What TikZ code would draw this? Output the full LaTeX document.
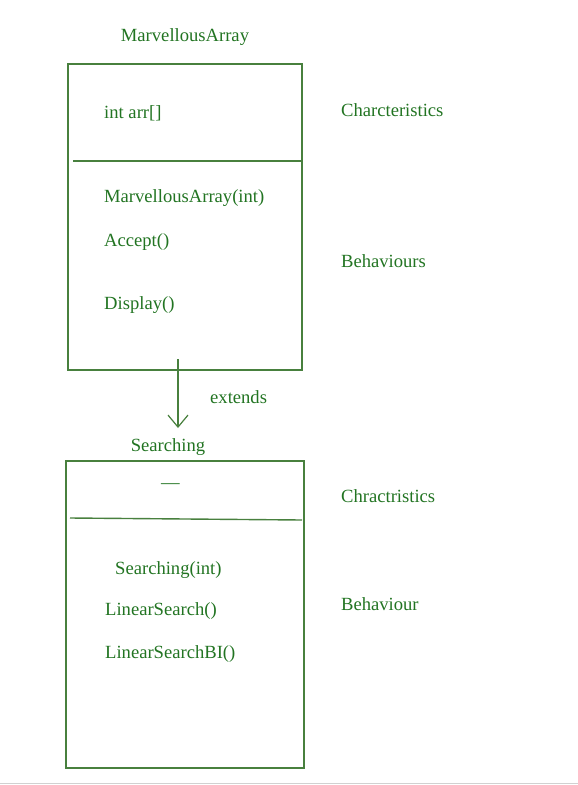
\documentclass[tikz,border=0pt]{standalone}
\usepackage{fontspec}
\setmainfont{Liberation Serif}
\usetikzlibrary{arrows.meta}
\definecolor{umltext}{RGB}{34,116,34}
\definecolor{umlline}{RGB}{72,128,62}
\begin{document}
\begin{tikzpicture}[x=1pt,y=-1pt]
    \tikzset{label/.style={text=umltext, inner sep=0pt, anchor=west, font=\fontsize{18.6}{22}\selectfont},
        classbox/.style={draw=umlline, line width=1.4pt, inner sep=0pt}}
    \useasboundingbox (0,0) rectangle (578,785);
    %Rand unten
    \draw[black!18, line width=1.2pt] (0,783.5) -- (578,783.5);

    %MarvellousArray
    \node[label, anchor=center] (matitle) at (185,37) {MarvellousArray};
    \node[classbox, minimum width=234pt, minimum height=306pt] (mabox) at (185,217) {};
    \draw[umlline, line width=1.4pt] (73,161) -- (mabox.east |- 0,161);
    \node[label] (maattr) at (104,113)   {int arr[]};
    \node[label] (mactor) at (104,198)   {MarvellousArray(int)};
    \node[label] (maacc)  at (104,242)   {Accept()};
    \node[label] (madisp) at (104,305)   {Display()};
    \node[label] (machar) at (341,110)   {Charcteristics};
    \node[label] (mabeh)  at (341,261)   {Behaviours};

    %Vererbung
    \coordinate (extfrom) at (178,359);
    \coordinate (extto)   at (178,428);
    \draw[umlline, line width=1.2pt, -{Straight Barb[length=12pt,width=20pt]}] (extfrom) -- (extto);
    \node[label] (extlbl) at (210,397)   {extends};

    %Searching
    \node[label, anchor=center] (srtitle) at (168,447) {Searching};
    \node[classbox, minimum width=238pt, minimum height=307pt] (srbox) at (185,614.5) {};
    \draw[umlline, line width=1.4pt] (70,518) -- (302,520);
    \node[label, anchor=center] (srattr) at (170.5,486) {---};
    \node[label] (srctor) at (115,570)   {Searching(int)};
    \node[label] (srlin)  at (105,611)   {LinearSearch()};
    \node[label] (srbin)  at (105,654)   {LinearSearchBI()};
    \node[label] (srchar) at (341,496)   {Chractristics};
    \node[label] (srbeh)  at (341,604)   {Behaviour};
\end{tikzpicture}
\end{document}
